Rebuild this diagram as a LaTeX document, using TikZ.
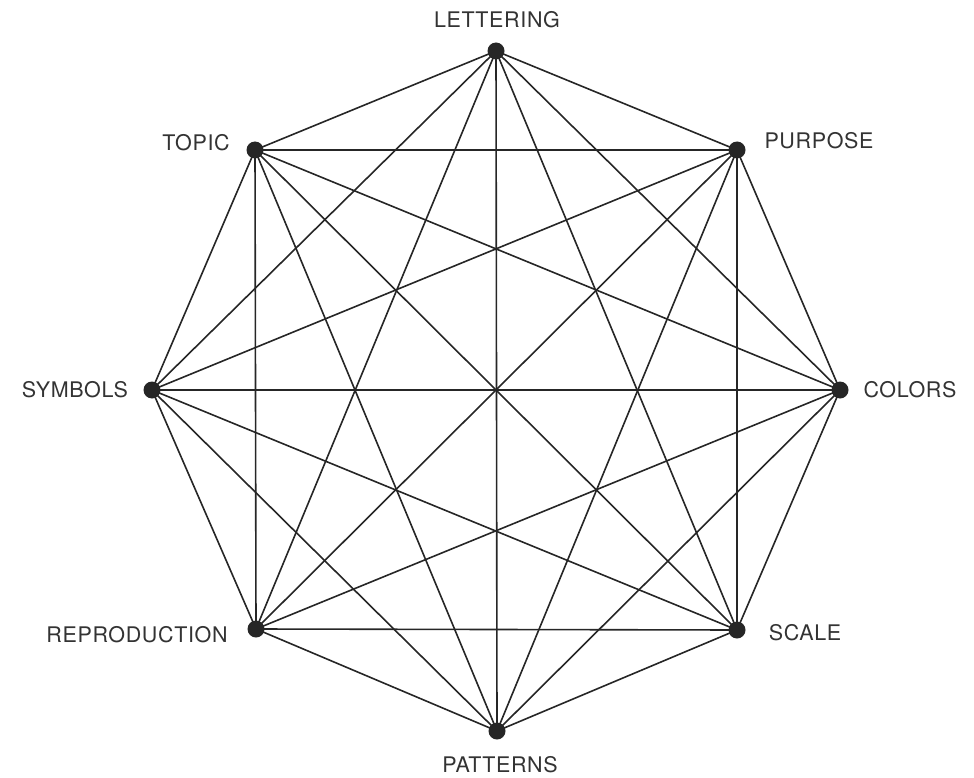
\documentclass[tikz,border=0pt]{standalone}
\usepackage{fontspec}
\setmainfont{TeX Gyre Heros}[LetterSpace=3]
\definecolor{ink}{HTML}{262626}
\definecolor{labelink}{HTML}{333333}
\begin{document}
\begin{tikzpicture}[x=1pt, y=-1pt, line cap=round, line join=round,
  edge/.style={draw=ink, line width=1.6pt},
  vdot/.style={circle, fill=ink, inner sep=0pt, minimum size=17pt},
  vlabel/.style={text=labelink, inner sep=0pt, font=\fontsize{21.5}{26}\selectfont}]

  %% vertices of the octagon
  \coordinate (v1) at (496,51);    % lettering
  \coordinate (v2) at (737,150);   % purpose
  \coordinate (v3) at (840,390);   % colors
  \coordinate (v4) at (737,630);   % scale
  \coordinate (v5) at (497,731);   % patterns
  \coordinate (v6) at (256,629);   % reproduction
  \coordinate (v7) at (152,390);   % symbols
  \coordinate (v8) at (255,150);   % topic

  %% every pair joined
  \foreach \i in {1,...,7}{
    \pgfmathtruncatemacro\k{\i+1}
    \foreach \j in {\k,...,8}{
      \draw[edge] (v\i) -- (v\j);
    }
  }

  %% dots
  \foreach \i in {1,...,8}{
    \node[vdot] (d\i) at (v\i) {};
  }

  %% labels
  \node[vlabel] (lettering)    at (497,20)  {LETTERING};
  \node[vlabel] (purpose)      at (819,141) {PURPOSE};
  \node[vlabel] (colors)       at (910,390) {COLORS};
  \node[vlabel] (scale)        at (805,633) {SCALE};
  \node[vlabel] (patterns)     at (500,765) {PATTERNS};
  \node[vlabel] (reproduction) at (137,635) {REPRODUCTION};
  \node[vlabel] (symbols)      at (75,390)  {SYMBOLS};
  \node[vlabel] (topic)        at (196,143) {TOPIC};

  \pgfresetboundingbox
  \path[use as bounding box] (0,0) rectangle (974,778);
\end{tikzpicture}
\end{document}
